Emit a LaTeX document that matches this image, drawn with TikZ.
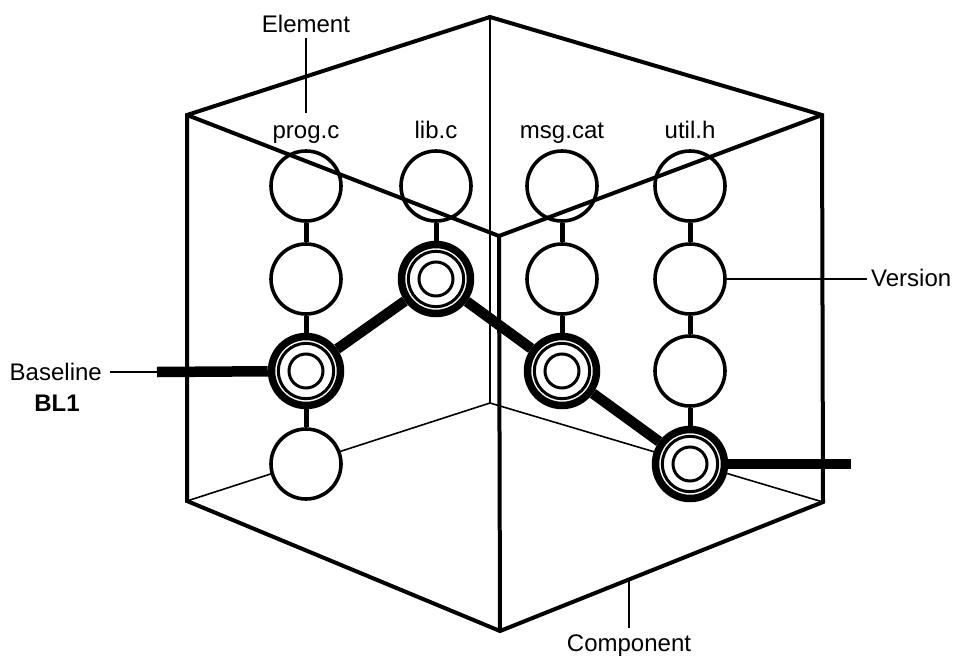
\documentclass[tikz,border=0pt]{standalone}
\usepackage{fontspec}
\setmainfont{Liberation Sans}
\begin{document}
\begin{tikzpicture}[x=1pt,y=-1pt,
  lbl/.style={font=\fontsize{24}{28}\selectfont, inner sep=0pt},
  ver/.style={circle, draw, line width=3.6pt, fill=white, minimum size=70pt, inner sep=0pt},
  blv/.style={circle, draw, line width=7.5pt, fill=white, minimum size=69pt, inner sep=0pt},
  blring/.style={line width=3pt},
  vlink/.style={line width=5pt},
  blink/.style={line width=10.5pt},
  cubeedge/.style={line width=4pt, line join=miter},
  backedge/.style={line width=1.6pt},
  leader/.style={line width=2.3pt}
]
\useasboundingbox (0,0) rectangle (956,656);

% cube vertices
\coordinate (T) at (490,17);
\coordinate (UL) at (187,115);
\coordinate (UR) at (822,115);
\coordinate (F) at (499,236);
\coordinate (LL) at (187,501);
\coordinate (LR) at (823,502);
\coordinate (B) at (500,631);
\coordinate (BK) at (490,403);

% hidden back edges
\draw[backedge] (T) -- (BK);
\draw[backedge] (LL) -- (BK) -- (LR);

% version nodes
\node[ver] (a1) at (306,186) {};
\node[ver] (a2) at (306,279) {};
\node[blv] (a3) at (306,371) {};
\node[ver] (a4) at (306,464) {};
\node[ver] (b1) at (436,186) {};
\node[blv] (b2) at (436,279) {};
\node[ver] (c1) at (562,186) {};
\node[ver] (c2) at (562,279) {};
\node[blv] (c3) at (562,371) {};
\node[ver] (d1) at (690,186) {};
\node[ver] (d2) at (690,279) {};
\node[ver] (d3) at (690,371) {};
\node[blv] (d4) at (690,464) {};

\foreach \n in {a3,b2,c3,d4}{
  \draw[blring] (\n) circle[radius=27.7pt];
  \draw[blring] (\n) circle[radius=17pt];
}

% version links
\foreach \u/\v in {a1/a2,a2/a3,a3/a4,b1/b2,c1/c2,c2/c3,d1/d2,d2/d3,d3/d4}
  \draw[vlink] (\u) -- (\v);

% cube front edges
\draw[cubeedge] (T) -- (UR) -- (LR) -- (B) -- (LL) -- (UL) -- cycle;
\draw[cubeedge] (UL) -- (F) -- (UR);
\draw[cubeedge] (F) -- (B);

% baseline
\coordinate (blL) at (157,372);
\coordinate (blR) at (851,464);
\draw[blink] (blL) -- (a3);
\draw[blink] (a3) -- (b2);
\draw[blink] (b2) -- (c3);
\draw[blink] (c3) -- (d4);
\draw[blink] (d4) -- (blR);

% file labels
\node[lbl, anchor=base] (fa) at (306,138) {prog.c};
\node[lbl, anchor=base] (fb) at (436,138) {lib.c};
\node[lbl, anchor=base] (fc) at (562,138) {msg.cat};
\node[lbl, anchor=base] (fd) at (690,138) {util.h};

% Element
\node[lbl, anchor=base] (elem) at (306,32) {Element};
\coordinate (elemA) at (306,38);
\coordinate (elemB) at (306,113);
\draw[leader] (elemA) -- (elemB);

% Version
\node[lbl, anchor=base west] (vers) at (871,286) {Version};
\coordinate (versA) at (867,279);
\draw[leader] (d2.east) -- (versA);

% Baseline
\node[lbl, anchor=base east] (bltxt) at (102,380) {Baseline};
\node[lbl, anchor=base, font=\fontsize{24}{28}\selectfont\bfseries] (blname) at (57,411) {BL1};
\coordinate (blA) at (110,372);
\draw[leader] (blA) -- (blL);

% Component
\node[lbl, anchor=base] (comp) at (629,651) {Component};
\coordinate (compA) at (629,580);
\coordinate (compB) at (629,628);
\draw[leader] (compA) -- (compB);
\end{tikzpicture}
\end{document}
